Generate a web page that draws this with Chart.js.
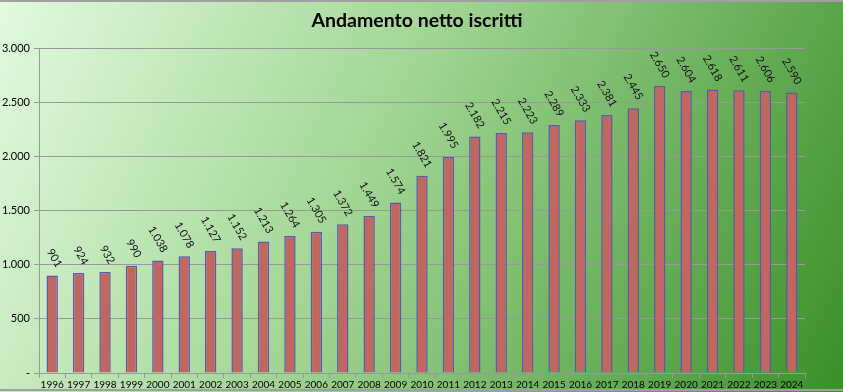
<!DOCTYPE html>
<html>
<head>
<meta charset="utf-8">
<script src="https://cdn.jsdelivr.net/npm/chart.js@4/dist/chart.umd.min.js"></script>
<style>
html,body{margin:0;padding:0;background:#fff;}
canvas{display:block;}
</style>
</head>
<body>
<canvas id="c" width="843" height="392"></canvas>
<script>
const years = ["1996","1997","1998","1999","2000","2001","2002","2003","2004","2005","2006","2007","2008","2009","2010","2011","2012","2013","2014","2015","2016","2017","2018","2019","2020","2021","2022","2023","2024"];
const iscritti = [901,924,932,990,1038,1078,1127,1152,1213,1264,1305,1372,1449,1574,1821,1995,2182,2215,2223,2289,2333,2381,2445,2650,2604,2618,2611,2606,2590];
const titleText = "Andamento netto iscritti";

function fmt(v){
  if (v === 0) return "-";
  return v.toString().replace(/\B(?=(\d{3})+(?!\d))/g, ".");
}

const bgPlugin = {
  id: 'bg',
  beforeDraw(chart){
    const ctx = chart.ctx, w = chart.width, h = chart.height;
    const g = ctx.createLinearGradient(0, 0, w, h);
    g.addColorStop(0, '#e2fadf');
    g.addColorStop(0.45, '#9fd492');
    g.addColorStop(1, '#3a8f28');
    ctx.save();
    ctx.fillStyle = g;
    ctx.fillRect(0, 0, w, h);
    ctx.strokeStyle = '#a0a0a0';
    ctx.lineWidth = 2;
    ctx.beginPath();
    ctx.moveTo(0, 1); ctx.lineTo(w, 1);
    ctx.moveTo(0, h - 2); ctx.lineTo(w, h - 2);
    ctx.stroke();
    ctx.font = 'bold 19.5px Lato';
    ctx.fillStyle = '#000';
    ctx.textAlign = 'center';
    ctx.textBaseline = 'middle';
    ctx.fillText(titleText, 417, 21);
    ctx.restore();
  }
};

const labelPlugin = {
  id: 'vlabels',
  afterDatasetsDraw(chart){
    const ctx = chart.ctx;
    const meta = chart.getDatasetMeta(0);
    ctx.save();
    ctx.font = '11px Lato';
    ctx.fillStyle = '#111';
    ctx.textAlign = 'right';
    ctx.textBaseline = 'middle';
    meta.data.forEach((bar, i) => {
      ctx.save();
      ctx.translate(bar.x + 7, bar.y - 9);
      ctx.rotate(60 * Math.PI / 180);
      ctx.fillText(fmt(iscritti[i]), 0, 0);
      ctx.restore();
    });
    ctx.restore();
  }
};

new Chart(document.getElementById('c'), {
  type: 'bar',
  data: {
    labels: years,
    datasets: [{
      data: iscritti,
      backgroundColor: '#c0675f',
      borderColor: '#5a58b0',
      borderWidth: 1.5,
      barPercentage: 0.43,
      categoryPercentage: 1.0
    }]
  },
  options: {
    responsive: false,
    animation: false,
    layout: { padding: { left: 0, right: 38, top: 48, bottom: 3 } },
    plugins: {
      legend: { display: false },
      tooltip: { enabled: false },
      title: { display: false }
    },
    scales: {
      x: {
        grid: { display: true, offset: true, drawOnChartArea: false, color: '#999999', tickLength: 5 },
        border: { color: '#999999', width: 1 },
        ticks: { color: '#000', font: { family: 'Lato', size: 10 }, maxRotation: 0, autoSkip: false, padding: 1 },
        afterFit(s){ s.height = 16; }
      },
      y: {
        min: 0, max: 3000,
        ticks: { stepSize: 500, color: '#000', font: { family: 'Lato', size: 11 }, padding: 4, callback: v => fmt(v) },
        grid: { color: '#999999', tickLength: 5 },
        border: { color: '#999999', width: 1 },
        afterFit(s){ s.width = 39; }
      }
    }
  },
  plugins: [bgPlugin, labelPlugin]
});
</script>
</body>
</html>
